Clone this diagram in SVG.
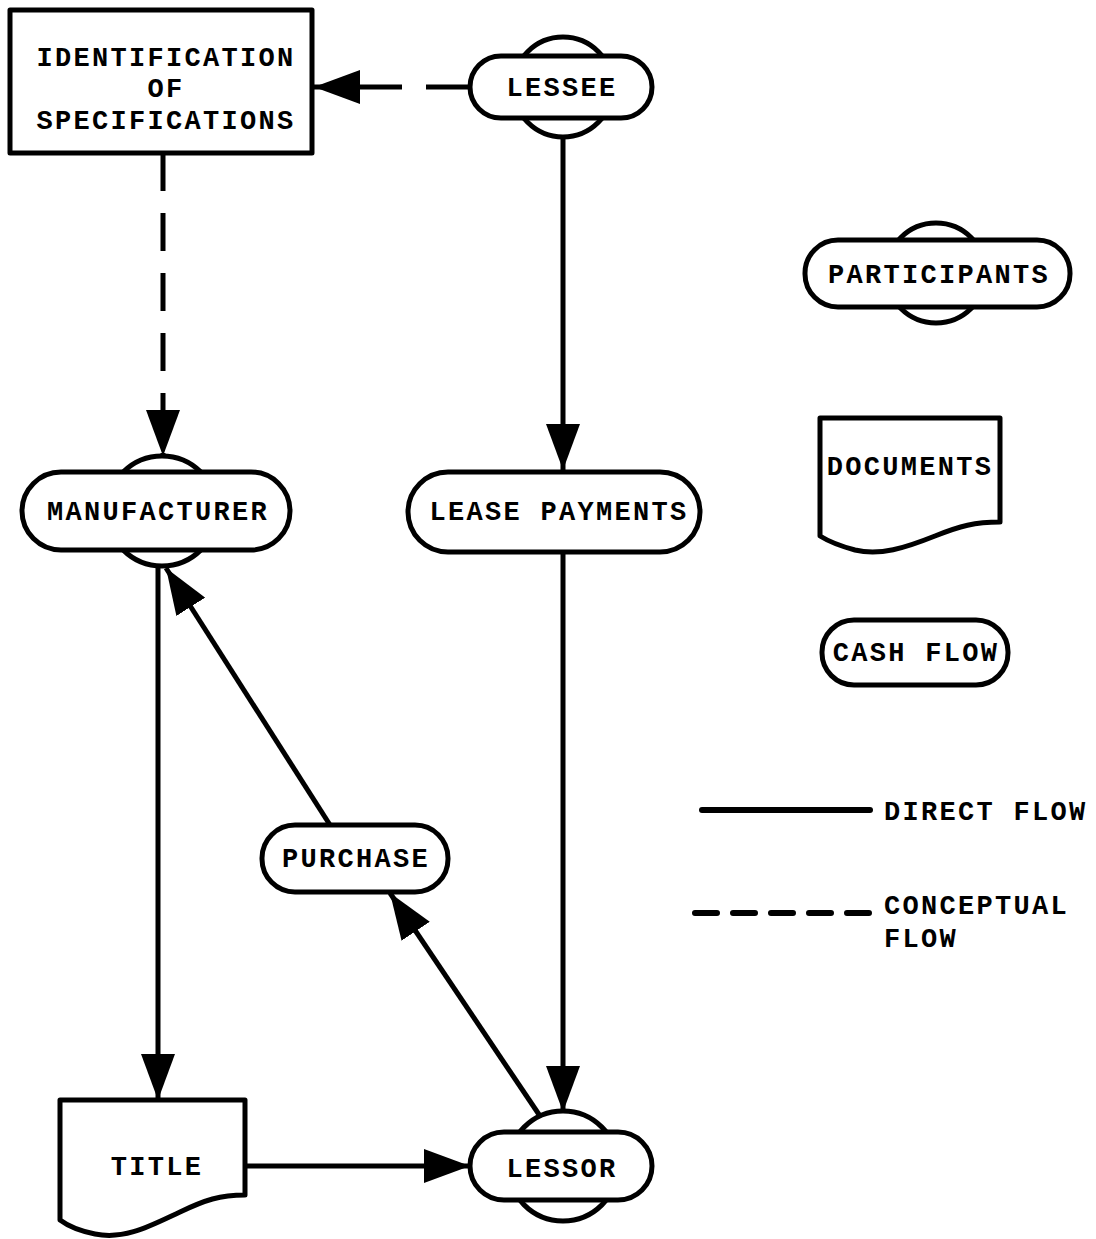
<svg xmlns="http://www.w3.org/2000/svg" width="1096" height="1239" viewBox="0 0 1096 1239">
<style>
.n{fill:#fff;stroke:#000;stroke-width:5;stroke-linejoin:round}
.t{font-family:"Liberation Mono","Courier New",monospace;font-weight:bold;font-size:27px;letter-spacing:2.3px;fill:#000;text-anchor:middle}
.tl{text-anchor:start}
.c{fill:none;stroke:#000;stroke-width:5}
.d{stroke-dasharray:38 22}
</style>
<defs>
<marker id="ah" markerUnits="userSpaceOnUse" viewBox="0 0 46 34" refX="46" refY="17" markerWidth="46" markerHeight="34" orient="auto">
<path d="M0,0 L46,17 L0,34 Z" fill="#000"/>
</marker>
</defs>
<rect width="1096" height="1239" fill="#fff"/>

<g id="connectors">
<line class="c d" x1="468" y1="87" x2="314" y2="87" marker-end="url(#ah)" style="stroke-dasharray:42 24"/>
<line class="c d" x1="163" y1="153" x2="163" y2="456" marker-end="url(#ah)"/>
<line class="c" x1="563" y1="137" x2="563" y2="470" marker-end="url(#ah)"/>
<line class="c" x1="563" y1="552" x2="563" y2="1112" marker-end="url(#ah)"/>
<line class="c" x1="158" y1="566" x2="158" y2="1100" marker-end="url(#ah)"/>
<line class="c" x1="245" y1="1166" x2="470" y2="1166" marker-end="url(#ah)"/>
<line class="c" x1="540" y1="1116" x2="390" y2="893" marker-end="url(#ah)"/>
<line class="c" x1="330" y1="825" x2="166" y2="568" marker-end="url(#ah)"/>
</g>

<g id="identification">
<rect class="n" x="10" y="10" width="302" height="143"/>
<text class="t" x="166" y="66">IDENTIFICATION</text>
<text class="t" x="166" y="97">OF</text>
<text class="t" x="166" y="129">SPECIFICATIONS</text>
</g>

<g id="lessee">
<circle class="n" cx="563" cy="87" r="50"/>
<rect class="n" x="470" y="56" width="182" height="62" rx="31"/>
<text class="t" x="562" y="96">LESSEE</text>
</g>

<g id="manufacturer">
<circle class="n" cx="162" cy="511" r="55"/>
<rect class="n" x="22" y="472" width="268" height="78" rx="39"/>
<text class="t" x="158" y="520">MANUFACTURER</text>
</g>

<g id="lease-payments">
<rect class="n" x="408" y="472" width="292" height="80" rx="40"/>
<text class="t" x="559" y="520">LEASE PAYMENTS</text>
</g>

<g id="purchase">
<rect class="n" x="262" y="825" width="186" height="67" rx="33"/>
<text class="t" x="356" y="867">PURCHASE</text>
</g>

<g id="title">
<path class="n" d="M60,1100 H245 V1195 C220,1195 205,1200 180,1212 C150,1226 125,1240 95,1234 C80,1231 68,1226 60,1220 Z"/>
<text class="t" x="157" y="1175">TITLE</text>
</g>

<g id="lessor">
<circle class="n" cx="563" cy="1166" r="55"/>
<rect class="n" x="470" y="1132" width="182" height="68" rx="34"/>
<text class="t" x="562" y="1177">LESSOR</text>
</g>

<g id="legend-participants">
<circle class="n" cx="936" cy="273" r="50"/>
<rect class="n" x="805" y="240" width="265" height="67" rx="33"/>
<text class="t" x="939" y="283">PARTICIPANTS</text>
</g>

<g id="legend-documents">
<path class="n" d="M820,418 H1000 V522 C975,522 960,526 935,536 C905,548 880,556 855,550 C840,546 828,541 820,536 Z"/>
<text class="t" x="910" y="475">DOCUMENTS</text>
</g>

<g id="legend-cashflow">
<rect class="n" x="822" y="620" width="186" height="65" rx="32"/>
<text class="t" x="916" y="661">CASH FLOW</text>
</g>

<g id="legend-lines">
<line x1="702" y1="810" x2="870" y2="810" stroke="#000" stroke-width="6" stroke-linecap="round"/>
<text class="t tl" x="884" y="820">DIRECT FLOW</text>
<line x1="695" y1="913" x2="870" y2="913" stroke="#000" stroke-width="6" stroke-linecap="round" stroke-dasharray="22 16"/>
<text class="t tl" x="884" y="914">CONCEPTUAL</text>
<text class="t tl" x="884" y="947">FLOW</text>
</g>
</svg>
